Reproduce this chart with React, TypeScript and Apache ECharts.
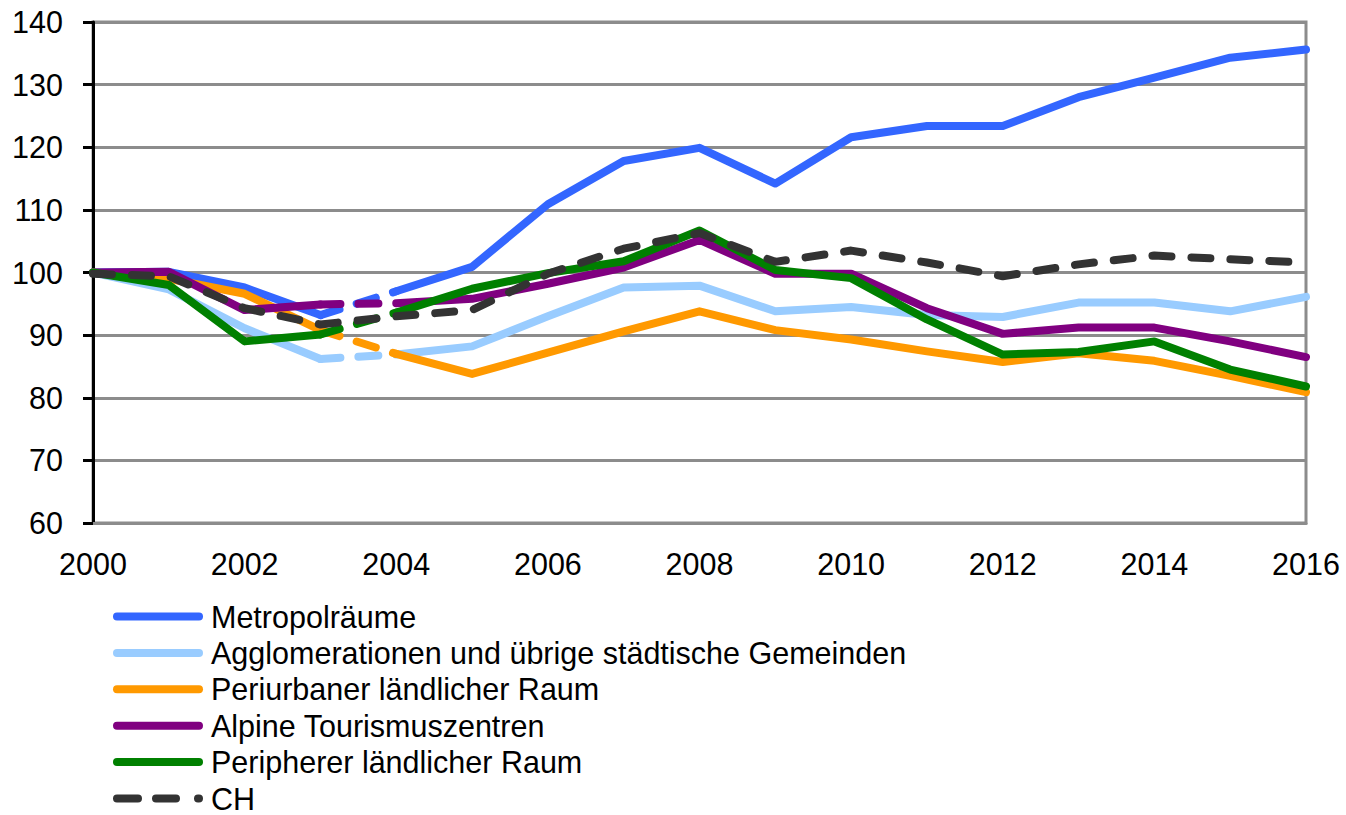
import React, { useEffect, useRef } from "react";
import * as echarts from "echarts";

const years = [2000, 2001, 2002, 2003, 2004, 2005, 2006, 2007, 2008, 2009, 2010, 2011, 2012, 2013, 2014, 2015, 2016];

const seriesNames = [
  "Metropolräume",
  "Agglomerationen und übrige städtische Gemeinden",
  "Periurbaner ländlicher Raum",
  "Alpine Tourismuszentren",
  "Peripherer ländlicher Raum",
  "CH",
];

const metropol = [100, 100.1, 97.6, 93.2, 97.0, 100.9, 110.9, 117.8, 119.9, 114.2, 121.6, 123.4, 123.4, 128.0, 131.1, 134.3, 135.6];
const agglo = [100, 97.3, 91.1, 86.2, 86.9, 88.2, 93.0, 97.6, 97.9, 93.8, 94.5, 93.2, 92.9, 95.2, 95.2, 93.8, 96.1];
const periurban = [100, 99.0, 96.6, 90.8, 87.0, 83.8, 87.2, 90.6, 93.8, 90.8, 89.3, 87.4, 85.7, 87.1, 85.9, 83.5, 80.9];
const alpine = [100, 100.1, 94.0, 94.9, 95.1, 95.8, 98.2, 100.8, 105.2, 99.8, 99.8, 94.3, 90.2, 91.2, 91.2, 89.0, 86.5];
const peripher = [100, 98.0, 89.0, 90.1, 93.6, 97.4, 99.9, 101.8, 106.7, 100.4, 99.1, 92.5, 86.9, 87.3, 89.0, 84.5, 81.8];
const ch = [99.8, 99.4, 94.3, 91.7, 93.0, 94.0, 99.8, 103.8, 106.3, 101.7, 103.5, 101.6, 99.4, 101.3, 102.7, 102.1, 101.6];

const yTicks = { min: 60, max: 140, interval: 10 };
const xTicks = { min: 2000, max: 2016, interval: 2 };

// break between these two years (drawn dashed)
const breakFrom = 2003;
const breakTo = 2004;

const colors = ["#3366FF", "#99CCFF", "#FF9900", "#800080", "#008000", "#333333"];
const FONT = "'Liberation Sans', Arial, sans-serif";

const solidIcon = "path://M4,0 H86 A4,4 0 0 1 86,8 H4 A4,4 0 0 1 4,0 Z";
const dashIcon =
  "path://M4,0 H25 A4,4 0 0 1 25,8 H4 A4,4 0 0 1 4,0 Z M43,0 H63 A4,4 0 0 1 63,8 H43 A4,4 0 0 1 43,0 Z M85,0 H86 A4,4 0 0 1 86,8 H85 A4,4 0 0 1 85,0 Z";

export default function App() {
  const ref = useRef<HTMLDivElement>(null);

  useEffect(() => {
    if (!ref.current) return;
    const chart = echarts.init(ref.current, undefined, { renderer: "svg" });
    const values = [metropol, agglo, periurban, alpine, peripher, ch];
    const LW = 8;
    const series: any[] = [];

    values.forEach((vals, si) => {
      const name = seriesNames[si];
      if (si === 5) {
        series.push({
          name,
          type: "line",
          data: years.map((y, i) => [y, vals[i]]),
          symbol: "none",
          z: 10,
          lineStyle: { color: colors[si], width: LW, type: [19, 20], cap: "round", join: "round" },
          itemStyle: { color: colors[si] },
        });
        return;
      }
      const solid: any[] = [];
      years.forEach((y, i) => {
        solid.push([y, vals[i]]);
        if (y === breakFrom) solid.push([(breakFrom + breakTo) / 2, "-"]);
      });
      const i0 = years.indexOf(breakFrom);
      const i1 = years.indexOf(breakTo);
      series.push({
        name,
        type: "line",
        data: solid,
        symbol: "none",
        connectNulls: false,
        z: 2 + si,
        lineStyle: { color: colors[si], width: LW, cap: "round", join: "round" },
        itemStyle: { color: colors[si] },
      });
      series.push({
        name,
        type: "line",
        data: [
          [breakFrom, vals[i0]],
          [breakTo, vals[i1]],
        ],
        symbol: "none",
        z: 2 + si,
        lineStyle: { color: colors[si], width: LW, type: [20, 18], cap: "round", join: "round" },
        itemStyle: { color: colors[si] },
      });
    });

    chart.setOption({
      animation: false,
      backgroundColor: "#ffffff",
      textStyle: { fontFamily: FONT },
      grid: {
        left: 93,
        right: 40,
        top: 22,
        bottom: 292,
        show: true,
        borderColor: "#8c8c8c",
        borderWidth: 3,
        containLabel: false,
      },
      legend: {
        data: seriesNames.map((n, i) => ({ name: n, icon: i === 5 ? dashIcon : solidIcon })),
        orient: "vertical",
        left: 113,
        top: 601,
        height: 240,
        itemWidth: 90,
        itemHeight: 8,
        itemGap: 5.4,
        padding: 0,
        selectedMode: false,
        textStyle: { fontSize: 30.5, lineHeight: 30, color: "#000", fontFamily: FONT, padding: [0, 0, 0, 3] },
      },
      xAxis: {
        type: "value",
        min: xTicks.min,
        max: xTicks.max,
        interval: xTicks.interval,
        axisLine: { show: true, lineStyle: { color: "#8c8c8c", width: 3 } },
        axisTick: { show: false },
        splitLine: { show: false },
        axisLabel: {
          fontSize: 30.5,
          color: "#000",
          margin: 25,
          fontFamily: FONT,
          formatter: (v: number) => String(v),
        },
      },
      yAxis: {
        type: "value",
        min: yTicks.min,
        max: yTicks.max,
        interval: yTicks.interval,
        axisLine: { show: true, lineStyle: { color: "#000", width: 3 } },
        axisTick: { show: true, inside: false, length: 10, lineStyle: { color: "#000", width: 3 } },
        splitLine: { show: true, lineStyle: { color: "#8c8c8c", width: 3 } },
        axisLabel: { fontSize: 30.5, color: "#000", margin: 30, fontFamily: FONT },
      },
      series,
    });
    return () => chart.dispose();
  }, []);

  return (
    <div
      ref={ref}
      style={{ position: "fixed", left: 0, top: 0, width: 1346, height: 815, background: "#fff" }}
    />
  );
}
